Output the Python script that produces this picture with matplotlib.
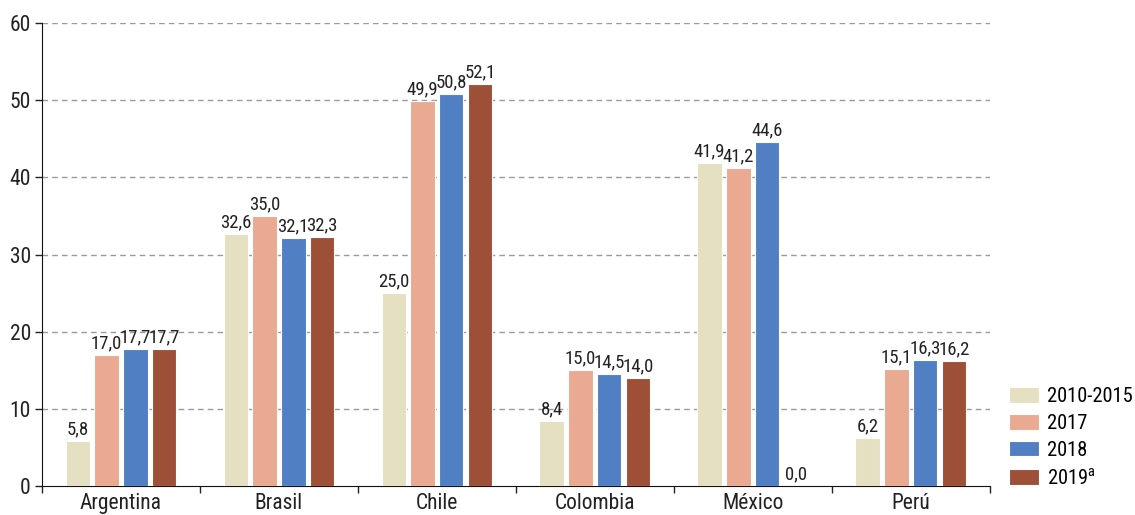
import matplotlib
matplotlib.use("Agg")
import matplotlib.pyplot as plt
import numpy as np

plt.rcParams["font.family"] = ["Roboto Condensed", "Liberation Sans", "DejaVu Sans"]
plt.rcParams["mathtext.fontset"] = "custom"
plt.rcParams["mathtext.rm"] = "Roboto Condensed"

countries = ["Argentina", "Brasil", "Chile", "Colombia", "México", "Perú"]
series_names = ["2010-2015", "2017", "2018", "2019$^{\\mathrm{a}}$"]
v_2010_2015 = [5.8, 32.6, 25.0, 8.4, 41.9, 6.2]
v_2017 = [17.0, 35.0, 49.9, 15.0, 41.2, 15.1]
v_2018 = [17.7, 32.1, 50.8, 14.5, 44.6, 16.3]
v_2019 = [17.7, 32.3, 52.1, 14.0, 0.0, 16.2]
colors = ["#E5E0C1", "#E9AA91", "#5080C3", "#9E4F37"]

fig = plt.figure(figsize=(11.35, 5.15), dpi=100)
ax = fig.add_axes([0.037, 0.0563, 0.835, 0.899])

x = np.arange(len(countries))
slot = 0.182
width = 0.155
handles = []
for i, (vals, c) in enumerate(zip([v_2010_2015, v_2017, v_2018, v_2019], colors)):
    pos = x + (i - 1.5) * slot
    bars = ax.bar(pos, vals, width=width, color=c, edgecolor="white", linewidth=0.8, zorder=3)
    handles.append(bars)
    for p, v in zip(pos, vals):
        ax.text(p, v + 0.35, f"{v:.1f}".replace(".", ","), ha="center", va="bottom",
                fontsize=13.5, color="#222222", zorder=4)

ax.set_xlim(-0.5, len(countries) - 0.5)
ax.set_ylim(0, 60)
ax.set_yticks(range(0, 61, 10))
for y in range(10, 61, 10):
    ax.axhline(y, color="#9a9a9a", linestyle=(0, (4, 3)), linewidth=1.0, zorder=1)

ax.set_xticks(x)
ax.set_xticklabels(countries)
ax.set_xticks(np.arange(-0.5, len(countries), 1.0), minor=True)
ax.tick_params(axis="x", which="major", length=0, labelsize=15.5, pad=5, colors="#222222")
ax.tick_params(axis="x", which="minor", length=5, width=1, direction="out", color="#222222")
ax.tick_params(axis="y", length=5, width=1, labelsize=15.5, pad=3, colors="#222222")

for s in ["top", "right"]:
    ax.spines[s].set_visible(False)
ax.spines["left"].set_color("#111111")
ax.spines["bottom"].set_color("#111111")

fig.legend(handles, series_names, loc="lower left", bbox_to_anchor=(0.889, 0.052),
           frameon=False, fontsize=14.8, handlelength=1.45, handleheight=0.8,
           labelspacing=0.38, handletextpad=0.38, borderaxespad=0, borderpad=0)

fig.savefig("out.png", dpi=100)
